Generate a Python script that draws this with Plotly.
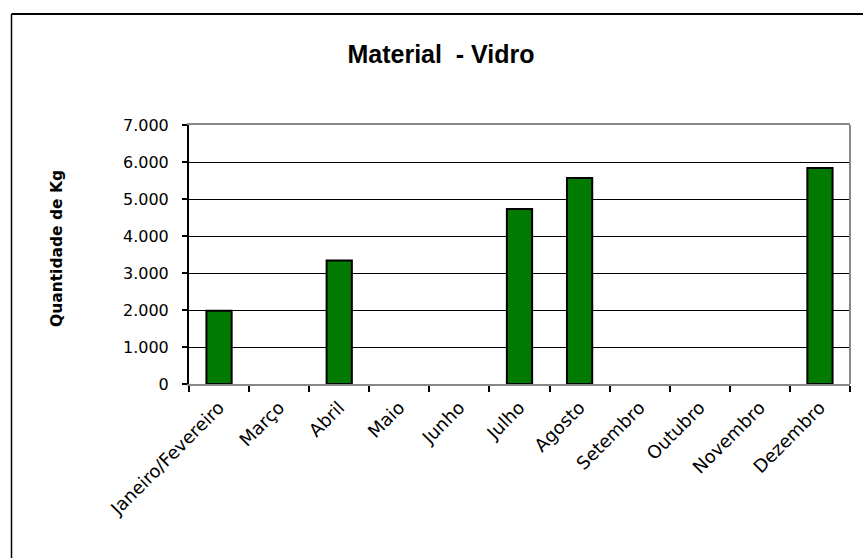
import plotly.graph_objects as go

# Monthly glass collection (kg)
meses = ["Janeiro/Fevereiro", "Março", "Abril", "Maio", "Junho", "Julho",
         "Agosto", "Setembro", "Outubro", "Novembro", "Dezembro"]
quantidade = [1980, 0, 3340, 0, 0, 4730, 5570, 0, 0, 0, 5840]

y_ticks = [0, 1000, 2000, 3000, 4000, 5000, 6000, 7000]
y_ticktext = ["0", "1.000", "2.000", "3.000", "4.000", "5.000", "6.000", "7.000"]

W, H = 863, 558
L, R, T, B = 189, 850, 125, 384  # plot area in pixels

# empty months get no outline so nothing is drawn for them
outline = [2 if v > 0 else 0 for v in quantidade]

fig = go.Figure(go.Bar(
    x=meses, y=quantidade,
    marker=dict(color="#007a00", line=dict(color="black", width=outline)),
    width=0.42,
))

title_font = "Liberation Sans, Arial, sans-serif"
axis_font = "DejaVu Sans, Verdana, sans-serif"

pw, ph = R - L, B - T
def px(x):
    return (x - L) / pw
def py(y):
    return (B - y) / ph

fig.update_layout(
    width=W, height=H,
    margin=dict(l=L, r=W - R, t=T, b=H - B, pad=0),
    paper_bgcolor="white", plot_bgcolor="white",
    showlegend=False,
    font=dict(family=axis_font, color="black"),
    title=dict(text="<b>Material  - Vidro</b>", x=441 / W, xanchor="center",
               y=1 - 54 / H, yanchor="middle",
               font=dict(size=25, family=title_font, color="black")),
)

fig.update_xaxes(
    type="category", range=[-0.5, len(meses) - 0.5],
    showline=True, linecolor="#888888", linewidth=2, mirror=True,
    ticks="outside", tickson="boundaries", ticklen=6, tickcolor="black", tickwidth=2,
    tickangle=-45, tickfont=dict(size=18, family=axis_font, color="black"),
    ticklabelstandoff=4,
    showgrid=False,
)

fig.update_yaxes(
    range=[0, 7000], tickvals=y_ticks, ticktext=y_ticktext,
    showline=True, linecolor="black", linewidth=2,
    ticks="outside", ticklen=5, tickcolor="black", tickwidth=2,
    tickfont=dict(size=16, family=axis_font, color="black"),
    ticklabelstandoff=10,
    showgrid=True, gridcolor="black", gridwidth=1, zeroline=False,
)

fig.add_annotation(
    text="<b>Quantidade de Kg</b>", textangle=-90,
    xref="paper", yref="paper", x=px(57), y=py(249),
    xanchor="center", yanchor="middle", showarrow=False,
    font=dict(size=15.5, family=axis_font, color="black"),
)

shapes = [
    # grey right edge of the plot area
    dict(type="line", xref="paper", yref="paper", x0=1, x1=1, y0=0, y1=1,
         line=dict(color="#888888", width=2)),
    # outer chart frame (top and left)
    dict(type="line", xref="paper", yref="paper", x0=px(11.5), x1=px(W + 5),
         y0=py(14), y1=py(14), line=dict(color="black", width=2)),
    dict(type="line", xref="paper", yref="paper", x0=px(11.5), x1=px(11.5),
         y0=py(14), y1=py(H + 5), line=dict(color="black", width=1.5)),
]
fig.update_layout(shapes=shapes)

fig.write_html("out.html")
